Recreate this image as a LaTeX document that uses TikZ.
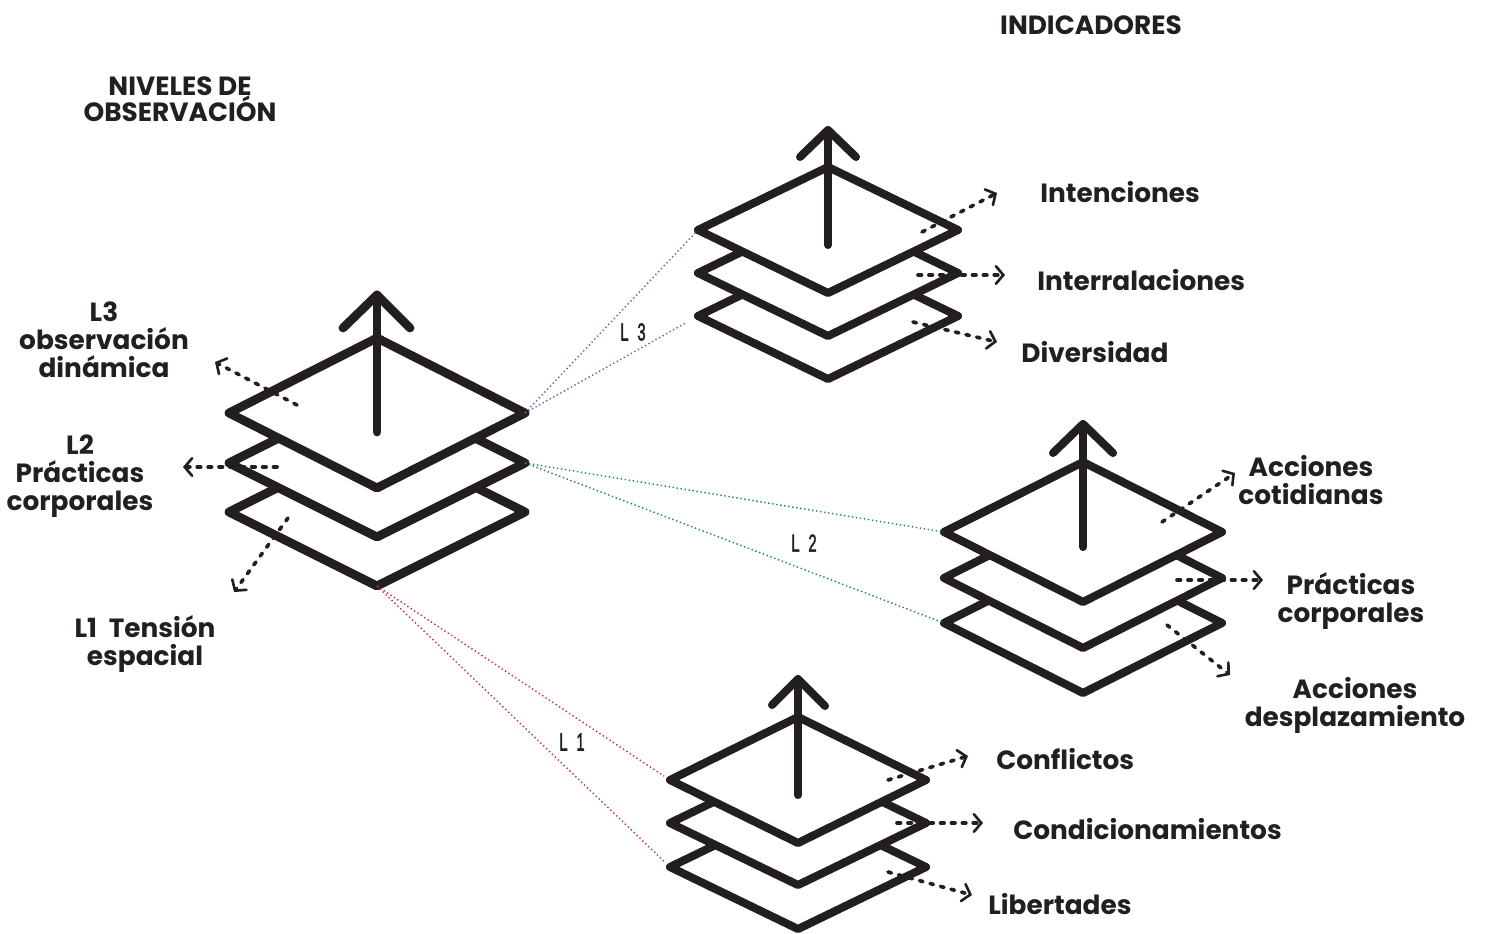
\documentclass[tikz,border=0pt]{standalone}
\usepackage{fontspec}
\setmainfont{Poppins}
\newfontfamily\condfont{Liberation Sans}[UprightFont=*, BoldFont=*, BoldFeatures={FakeBold=2.5}]
\usetikzlibrary{arrows.meta}
\definecolor{ink}{HTML}{231F20}
\definecolor{lpurple}{RGB}{112,92,200}
\definecolor{lgreen}{RGB}{20,135,105}
\definecolor{lred}{RGB}{205,45,75}
% plate: name, cx, cy, half width, half height, style
\newcommand\plt[6]{%
  \draw[#6] (#2-#4,#3) coordinate (#1l) -- (#2,#3-#5) coordinate (#1t)
    -- (#2+#4,#3) coordinate (#1r) -- (#2,#3+#5) coordinate (#1b) -- cycle;}
\begin{document}
\begin{tikzpicture}[x=0.02cm,y=-0.02cm,
  platebig/.style={draw=ink,fill=white,line width=5pt,line join=round},
  platesmall/.style={draw=ink,fill=white,line width=4.6pt,line join=round},
  shaftbig/.style={draw=ink,line width=5pt,line cap=round,line join=round},
  shaftsmall/.style={draw=ink,line width=4.6pt,line cap=round,line join=round},
  darrow/.style={draw=ink,line width=2.1pt,line cap=round,dash pattern=on 2pt off 4.2pt,
    -{Straight Barb[length=4.2pt,width=10pt,line width=1.5pt,line cap=round]}},
  dotline/.style={line width=0.8pt,dash pattern=on 0.8pt off 1.5pt},
  lbl/.style={font=\fontsize{15}{16}\selectfont\bfseries,text=ink,inner sep=0pt,align=center},
  lvl/.style={font=\condfont\bfseries\fontsize{14}{16}\selectfont,text=ink,inner sep=0pt}]
\useasboundingbox (0,0) rectangle (1487,933);

% ---------- plates (bottom first) ----------
% left stack
\plt{Lb}{377}{512}{148}{74}{platebig}
\plt{Lm}{377}{463}{148}{74}{platebig}
\plt{Lt}{377}{413}{148}{75}{platebig}
% stack A
\plt{Ab}{828}{316}{130}{63}{platesmall}
\plt{Am}{828}{273}{130}{63}{platesmall}
\plt{At}{828}{230}{130}{63}{platesmall}
% stack B
\plt{Bb}{1083}{623}{139}{70}{platesmall}
\plt{Bm}{1083}{578}{139}{70}{platesmall}
\plt{Bt}{1083}{532}{139}{70}{platesmall}
% stack C
\plt{Cb}{798}{867}{128}{62}{platesmall}
\plt{Cm}{798}{823}{128}{62}{platesmall}
\plt{Ct}{798}{780}{128}{63}{platesmall}

% ---------- colored dotted links ----------
\draw[dotline,lpurple,shorten >=2pt] (Ltr) -- (Atl);
\draw[dotline,lpurple,shorten >=8pt] (Ltr) -- (Abl);
\draw[dotline,lgreen] (Lmr) -- (Btl);
\draw[dotline,lgreen] (Lmr) -- (Bbl);
\draw[dotline,lred,shorten >=4pt] (Lbb) -- (Ctl);
\draw[dotline,lred,shorten >=4pt] (Lbb) -- (Cbl);

% ---------- up arrows ----------
\coordinate (Lbase) at (377,432); \coordinate (Ltip) at (377,295);
\coordinate (Lw1) at (343,328); \coordinate (Lw2) at (410,328);
\draw[shaftbig] (Lbase) -- (Ltip);
\draw[shaftbig] (Lw1) -- (Ltip) -- (Lw2);

\coordinate (Abase) at (828,245); \coordinate (Atip) at (828,130);
\coordinate (Aw1) at (800,157); \coordinate (Aw2) at (856,157);
\draw[shaftsmall] (Abase) -- (Atip);
\draw[shaftsmall] (Aw1) -- (Atip) -- (Aw2);

\coordinate (Bbase) at (1083,547); \coordinate (Btip) at (1083,424);
\coordinate (Bw1) at (1053,453); \coordinate (Bw2) at (1113,453);
\draw[shaftsmall] (Bbase) -- (Btip);
\draw[shaftsmall] (Bw1) -- (Btip) -- (Bw2);

\coordinate (Cbase) at (798,795); \coordinate (Ctip) at (798,679);
\coordinate (Cw1) at (772,705); \coordinate (Cw2) at (825,706);
\draw[shaftsmall] (Cbase) -- (Ctip);
\draw[shaftsmall] (Cw1) -- (Ctip) -- (Cw2);

% ---------- dashed arrows ----------
\coordinate (d1s) at (297,405); \coordinate (d1e) at (215,362);
\coordinate (d2s) at (277,467); \coordinate (d2e) at (183,467);
\coordinate (d3s) at (288,518); \coordinate (d3e) at (234,592);
\coordinate (a1s) at (922,232); \coordinate (a1e) at (997,193);
\coordinate (a2s) at (918,275); \coordinate (a2e) at (1005,275);
\coordinate (a3s) at (913,322); \coordinate (a3e) at (997,342);
\coordinate (b1s) at (1162,522); \coordinate (b1e) at (1235,473);
\coordinate (b2s) at (1177,580); \coordinate (b2e) at (1263,580);
\coordinate (b3s) at (1167,625); \coordinate (b3e) at (1230,675);
\coordinate (c1s) at (888,780); \coordinate (c1e) at (968,756);
\coordinate (c2s) at (897,823); \coordinate (c2e) at (983,823);
\coordinate (c3s) at (888,872); \coordinate (c3e) at (972,895);
\foreach \s/\e in {d1s/d1e,d2s/d2e,d3s/d3e,a1s/a1e,a2s/a2e,a3s/a3e,
                   b1s/b1e,b2s/b2e,b3s/b3e,c1s/c1e,c2s/c2e,c3s/c3e}
  \draw[darrow] (\s) -- (\e);

% ---------- texts ----------
\node[lbl] (tind) at (1091,25) {INDICADORES};
\node[lbl,font=\fontsize{15}{15}\selectfont\bfseries] (tniv) at (180,99) {NIVELES DE\\OBSERVACIÓN};
\node[lbl] (tl3) at (104,340) {L3\\observación\\dinámica};
\node[lbl] (tl2) at (80,476) {L2\\Prácticas\\corporales};
\node[lbl] (tl1) at (145,644) {L1\hspace{0.45em}Tensión\\espacial};

\node[lbl,anchor=west] (tint) at (1040,192) {Intenciones};
\node[lbl,anchor=west] (tinr) at (1037,280) {Interralaciones};
\node[lbl,anchor=west] (tdiv) at (1021,352) {Diversidad};
\node[lbl] (tacc) at (1311,480) {Acciones\\cotidianas};
\node[lbl] (tprc) at (1351,601) {Prácticas\\corporales};
\node[lbl] (tdes) at (1355,705) {Acciones\\desplazamiento};
\node[lbl,anchor=west] (tcon) at (996,759) {Conflictos};
\node[lbl,anchor=west] (tcnd) at (1013,829) {Condicionamientos};
\node[lbl,anchor=west] (tlib) at (988,904) {Libertades};

\node[lvl] (n3) at (633,332) {\scalebox{0.6}[1]{L\hspace{0.6em}3}};
\node[lvl] (n2) at (804,543) {\scalebox{0.6}[1]{L\hspace{0.6em}2}};
\node[lvl] (n1) at (572,742) {\scalebox{0.6}[1]{L\hspace{0.6em}1}};
\end{tikzpicture}
\end{document}
